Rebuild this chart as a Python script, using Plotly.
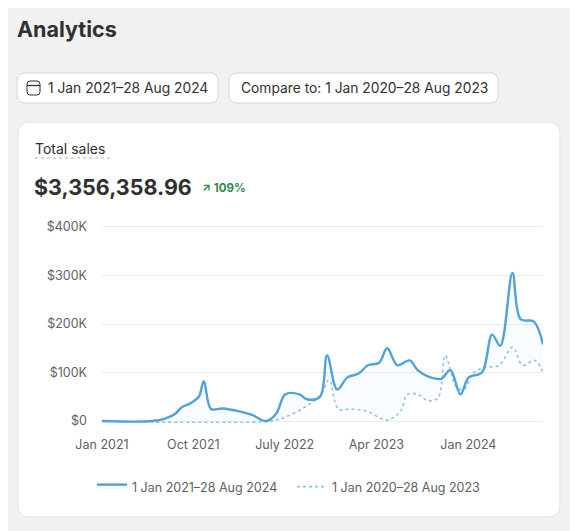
import pandas as pd
import plotly.graph_objects as go

W, H = 578, 531
OX, OY = 8, 8  # page body margin compensation

# month offsets from 1 Jan 2021, sales values
main_m = [0, 4.9, 6.2, 7.2, 7.8, 8.8, 9.5, 10, 10.7, 11.8, 13.5, 14.8, 16.1, 17.1, 18, 19.4, 20.1,
          21.4, 22.1, 23.1, 24.1, 25.2, 26.1, 27.2, 28, 29, 30.2, 31, 32, 33.3, 34.2, 35.2, 36,
          37.3, 38.3, 39.1, 40.3, 41.1, 42.4, 43.3]
main_v = [0, 0, 5000, 15000, 28000, 38000, 50000, 82000, 25000, 26000, 20000, 12000, 0, 15000,
          55000, 55000, 45000, 50000, 135000, 65000, 90000, 98000, 115000, 120000, 150000, 115000,
          125000, 105000, 92000, 87000, 105000, 55000, 90000, 100000, 178000, 155000, 305000,
          210000, 205000, 158000]
cmp_m = [0, 16.5, 18, 20, 21.5, 22.3, 23.2, 24.5, 26, 28, 29.3, 30, 31, 32, 33, 33.7, 34.8, 35.5,
         36.5, 37.5, 39, 40.3, 41.3, 42.5, 43.3]
cmp_v = [0, 0, 8000, 30000, 55000, 85000, 25000, 25000, 20000, 2000, 20000, 55000, 55000, 42000,
         48000, 135000, 70000, 65000, 100000, 110000, 115000, 152000, 115000, 125000, 100000]
tick_dates = ["2021-01-01", "2021-10-01", "2022-07-01", "2023-04-01", "2024-01-01"]
tick_text = ["Jan 2021", "Oct 2021", "July 2022", "Apr 2023", "Jan 2024"]

start = pd.Timestamp("2021-01-01")
to_date = lambda ms: [start + pd.Timedelta(days=m * 30.44) for m in ms]

X = lambda v: (v - OX) / W
Y = lambda v: 1 - (v - OY) / H

blue = "#4fa3d8"
fig = go.Figure()
fig.add_trace(go.Scatter(x=to_date(cmp_m), y=cmp_v, mode="lines", name="1 Jan 2020–28 Aug 2023",
                         line=dict(color="#8fc3e2", width=1.6, dash="dot", shape="spline", smoothing=1)))
fig.add_trace(go.Scatter(x=to_date(main_m), y=main_v, mode="lines", name="1 Jan 2021–28 Aug 2024",
                         line=dict(color=blue, width=2.4, shape="spline", smoothing=1),
                         fill="tonexty", fillcolor="rgba(79,163,216,0.035)"))


def rrect(x0, y0, x1, y1, r, fill, line="#dcdcdc"):
    # rounded rectangle in pixel coords (y from top)
    p = (f"M{X(x0+r)},{Y(y0)} L{X(x1-r)},{Y(y0)} Q{X(x1)},{Y(y0)} {X(x1)},{Y(y0+r)} "
         f"L{X(x1)},{Y(y1-r)} Q{X(x1)},{Y(y1)} {X(x1-r)},{Y(y1)} L{X(x0+r)},{Y(y1)} "
         f"Q{X(x0)},{Y(y1)} {X(x0)},{Y(y1-r)} L{X(x0)},{Y(y0+r)} Q{X(x0)},{Y(y0)} {X(x0+r)},{Y(y0)} Z")
    return dict(type="path", path=p, xref="paper", yref="paper", fillcolor=fill,
                line=dict(color=line, width=1), layer="below")


shapes = [rrect(18, 122, 560, 517, 12, "white", "#e3e3e3"),
          rrect(17, 73, 218, 103, 8, "white", "#d6d6d6"),
          rrect(229, 73, 498, 103, 8, "white", "#d6d6d6"),
          # calendar icon
          rrect(27, 81, 40, 95, 3, "rgba(0,0,0,0)", "#303030"),
          dict(type="line", xref="paper", yref="paper", x0=X(27), x1=X(40),
               y0=Y(85.5), y1=Y(85.5), line=dict(color="#303030", width=1.3)),
          dict(type="line", xref="paper", yref="paper", x0=X(35), x1=X(110),
               y0=Y(158), y1=Y(158), line=dict(color="#b5b5b5", width=1, dash="dot"))]


def ann(x, y, text, size, color="#303030", anchor="left", bold=False):
    return dict(x=X(x), y=Y(y), xref="paper", yref="paper", text=f"<b>{text}</b>" if bold else text,
                showarrow=False, xanchor=anchor, yanchor="middle",
                font=dict(size=size, color=color, family="Inter"))


annotations = [ann(15, 29, "Analytics", 21.5, "#303030", bold=True),
               ann(46, 88, "1 Jan 2021–28 Aug 2024", 13.8),
               ann(364, 88, "Compare to: 1 Jan 2020–28 Aug 2023", 13.8, anchor="center"),
               ann(33, 148, "Total sales", 14),
               ann(32, 187, "$3,356,358.96", 21.5, "#303030", bold=True),
               ann(200, 188, "↗ 109%", 11.5, "#2e8b4f", bold=True)]

fig.update_layout(
    width=W, height=H, margin=dict(l=0, r=0, t=0, b=0, autoexpand=False),
    paper_bgcolor="#f1f1f1", plot_bgcolor="white",
    font=dict(family="Inter", color="#616161", size=12.5),
    shapes=shapes, annotations=annotations,
    xaxis=dict(domain=[X(102), X(543)], range=[start, to_date([43.3])[0]], automargin=False,
               tickvals=tick_dates, ticktext=tick_text, showgrid=False, zeroline=False,
               showline=False, ticks="", ticklabelstandoff=12),
    yaxis=dict(domain=[Y(423), Y(225)], range=[-4000, 404000], automargin=False,
               tickvals=[0, 100000, 200000, 300000, 400000],
               ticktext=["$0", "$100K", "$200K", "$300K", "$400K"],
               gridcolor="#ececec", zeroline=False, showline=False, ticks="", ticklabelstandoff=14),
    legend=dict(orientation="h", x=X(292), xanchor="center", y=Y(487), yanchor="middle",
                traceorder="reversed", bgcolor="rgba(0,0,0,0)", itemwidth=30,
                font=dict(size=12.5, color="#616161"), entrywidth=155),
)

fig.write_html("out.html")
